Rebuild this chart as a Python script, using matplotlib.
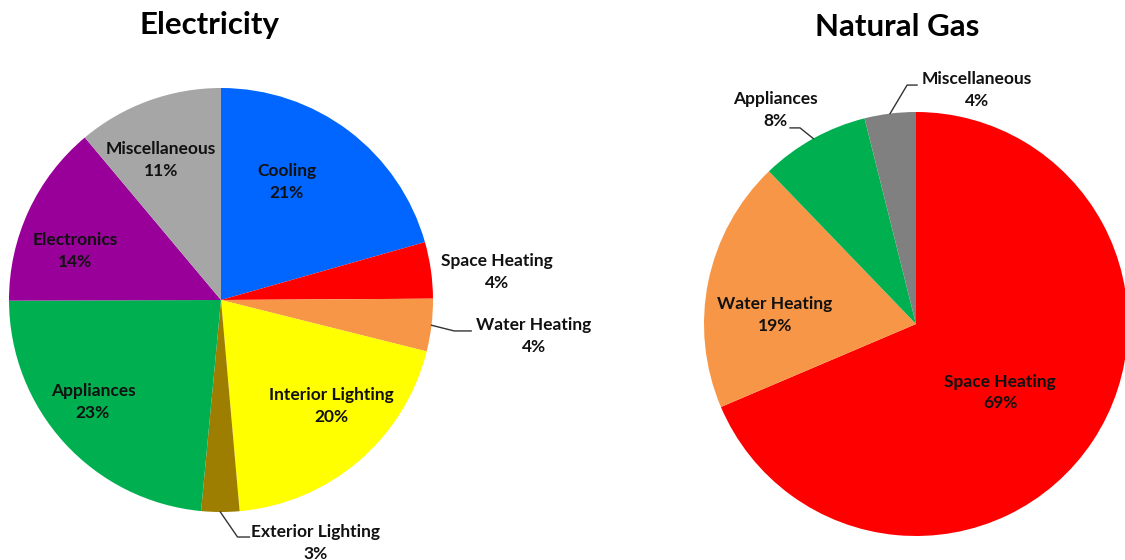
import matplotlib
matplotlib.use('Agg')
import matplotlib.pyplot as plt
import numpy as np

# Electricity end uses (%)
elec_labels = ['Cooling', 'Space Heating', 'Water Heating', 'Interior Lighting',
               'Exterior Lighting', 'Appliances', 'Electronics', 'Miscellaneous']
elec_values = [20.6, 4.3, 4.0, 19.7, 2.9, 23.45, 13.95, 11.1]
elec_colors = ['#0066FF', '#FF0000', '#F79646', '#FFFF00',
               '#9E7E00', '#00B050', '#990099', '#A6A6A6']

# Natural gas end uses (%)
gas_labels = ['Space Heating', 'Water Heating', 'Appliances', 'Miscellaneous']
gas_values = [68.6, 19.2, 8.3, 3.9]
gas_colors = ['#FF0000', '#F79646', '#00B050', '#808080']

# label positions (in pie radius units) and optional leader lines
elec_pos = [(0.311, 0.557), (1.302, 0.132), (1.476, -0.170), (0.519, -0.50),
            (0.448, -1.146), (-0.604, -0.481), (-0.689, 0.231), (-0.283, 0.660)]
elec_leaders = {2: [(1.10, -0.146), (1.18, -0.146)],
                4: [(0.078, -1.118), (0.134, -1.118)]}
gas_pos = [(0.396, -0.325), (-0.665, 0.042), (-0.665, 1.009), (0.288, 1.104)]
gas_leaders = {2: [(-0.547, 0.925), (-0.594, 0.925)],
               3: [(-0.042, 1.127), (0.005, 1.127)]}

FONT = 'Lato'
W, H = 1125, 560


def dibujar_pie(ax, valores, etiquetas, colores, posiciones, lineas):
    wedges, _ = ax.pie(valores, colors=colores, startangle=90, counterclock=False,
                       radius=1, wedgeprops=dict(linewidth=0))
    for i, w in enumerate(wedges):
        x, y = posiciones[i]
        ax.text(x, y, f'{etiquetas[i]}\n{valores[i]:.0f}%', ha='center', va='center',
                fontsize=12.5, fontweight='bold', family=FONT, linespacing=1.4,
                color='#111111')
        if i in lineas:
            ang = np.radians((w.theta1 + w.theta2) / 2)
            pts = [(np.cos(ang), np.sin(ang))] + lineas[i]
            xs = [p[0] for p in pts]
            ys = [p[1] for p in pts]
            ax.plot(xs, ys, color='#333333', linewidth=1, clip_on=False)
    ax.set_xlim(-1, 1)
    ax.set_ylim(-1, 1)
    ax.set_aspect('equal')
    ax.axis('off')


fig = plt.figure(figsize=(W / 100, H / 100), dpi=100)

R = 212
ax1 = fig.add_axes([(221 - R) / W, (H - 300 - R) / H, 2 * R / W, 2 * R / H])
dibujar_pie(ax1, elec_values, elec_labels, elec_colors, elec_pos, elec_leaders)

ax2 = fig.add_axes([(916 - R) / W, (H - 324 - R) / H, 2 * R / W, 2 * R / H])
dibujar_pie(ax2, gas_values, gas_labels, gas_colors, gas_pos, gas_leaders)

fig.text(210 / W, 1 - 25 / H, 'Electricity', ha='center', va='center',
         fontsize=22.5, fontweight='bold', family=FONT)
fig.text(897 / W, 1 - 27 / H, 'Natural Gas', ha='center', va='center',
         fontsize=22.5, fontweight='bold', family=FONT)

fig.savefig('out.png', dpi=100)
plt.close(fig)
